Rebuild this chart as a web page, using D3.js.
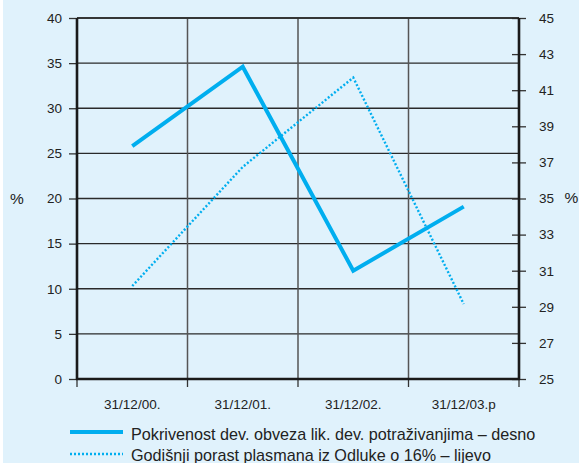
<!DOCTYPE html>
<html><head><meta charset="utf-8">
<script src="https://cdn.jsdelivr.net/npm/d3@7"></script>
<style>
html,body{margin:0;padding:0;background:#fff;}
svg{display:block;font-family:"Liberation Sans",Arial,sans-serif;}
</style></head>
<body>
<script>
const categories = ["31/12/00.", "31/12/01.", "31/12/02.", "31/12/03.p"];
const coverageRight = [37.9, 42.3, 31.0, 34.55];   // solid, right axis
const growthLeft = [10.3, 23.5, 33.4, 8.3];         // dotted, left axis
const leftTicks = [0, 5, 10, 15, 20, 25, 30, 35, 40];
const rightTicks = [25, 27, 29, 31, 33, 35, 37, 39, 41, 43, 45];
const legendLabels = ["Pokrivenost dev. obveza lik. dev. potraživanjima – desno",
                      "Godišnji porast plasmana iz Odluke o 16% – lijevo"];

const W = 579, H = 463;
const L = 77, R = 519, T = 18, B = 379;
const lineColor = "#00aeef";
const tickFont = 13.5;

const svg = d3.select("body").append("svg").attr("width", W).attr("height", H);
svg.append("rect").attr("width", W).attr("height", H).attr("fill", "#e0f2fc");
svg.append("rect").attr("width", 3).attr("height", H).attr("fill", "#ffffff");

const xBand = d3.scaleBand().domain(categories).range([L, R]).padding(0);
const xPoint = c => xBand(c) + xBand.bandwidth() / 2;
const yL = d3.scaleLinear().domain([0, 40]).range([B, T]);
const yR = d3.scaleLinear().domain([25, 45]).range([B, T]);

// horizontal gridlines
svg.append("g").selectAll("line").data(leftTicks.filter(d => d > 0)).join("line")
  .attr("x1", L).attr("x2", R).attr("y1", d => yL(d)).attr("y2", d => yL(d))
  .attr("stroke", "#2a2a2a").attr("stroke-width", 1.3);
// vertical gridlines
svg.append("g").selectAll("line").data(categories.slice(1)).join("line")
  .attr("x1", d => xBand(d)).attr("x2", d => xBand(d)).attr("y1", T).attr("y2", B)
  .attr("stroke", "#555").attr("stroke-width", 1.5);

// left axis
const gl = svg.append("g").attr("transform", `translate(${L},0)`)
  .call(d3.axisLeft(yL).tickValues(leftTicks).tickSize(8).tickPadding(7));
gl.select(".domain").remove();
gl.selectAll(".tick line").attr("stroke", "#333").attr("stroke-width", 1.3);
gl.selectAll(".tick text").attr("font-size", tickFont).attr("fill", "#222")
  .attr("font-family", "Liberation Sans, Arial, sans-serif");

// right axis
const gr = svg.append("g").attr("transform", `translate(${R},0)`)
  .call(d3.axisRight(yR).tickValues(rightTicks).tickSize(7).tickPadding(13));
gr.select(".domain").remove();
gr.selectAll(".tick line").attr("x1", -7).attr("stroke", "#333").attr("stroke-width", 1.3);
gr.selectAll(".tick text").attr("font-size", tickFont).attr("fill", "#222")
  .attr("font-family", "Liberation Sans, Arial, sans-serif");

// bottom axis ticks at band edges
const edges = categories.map(c => xBand(c)).concat([R]);
svg.append("g").selectAll("line").data(edges).join("line")
  .attr("x1", d => d).attr("x2", d => d).attr("y1", B).attr("y2", B + 8)
  .attr("stroke", "#333").attr("stroke-width", 1.3);
svg.append("g").selectAll("text").data(categories).join("text")
  .attr("x", d => xPoint(d)).attr("y", 409).attr("text-anchor", "middle")
  .attr("font-size", tickFont).attr("fill", "#222").text(d => d);

// axis frame lines
svg.append("line").attr("x1", L).attr("x2", R).attr("y1", T).attr("y2", T)
  .attr("stroke", "#2a2a2a").attr("stroke-width", 1.5);
svg.append("line").attr("x1", L).attr("x2", L).attr("y1", T).attr("y2", B + 1)
  .attr("stroke", "#1a1a1a").attr("stroke-width", 2.6);
svg.append("line").attr("x1", R).attr("x2", R).attr("y1", T).attr("y2", B + 1)
  .attr("stroke", "#1a1a1a").attr("stroke-width", 2.6);
svg.append("line").attr("x1", L - 1).attr("x2", R + 1).attr("y1", B).attr("y2", B)
  .attr("stroke", "#1a1a1a").attr("stroke-width", 2.6);

// % labels
svg.append("text").attr("x", 17).attr("y", 204).attr("text-anchor", "middle")
  .attr("font-size", 15.5).attr("fill", "#222").text("%");
svg.append("text").attr("x", 571.5).attr("y", 203).attr("text-anchor", "middle")
  .attr("font-size", 15.5).attr("fill", "#222").text("%");

// lines
const solid = d3.line().x((d, i) => xPoint(categories[i])).y(d => yR(d));
const dotted = d3.line().x((d, i) => xPoint(categories[i])).y(d => yL(d));
svg.append("path").datum(coverageRight).attr("d", solid).attr("fill", "none")
  .attr("stroke", lineColor).attr("stroke-width", 4).attr("stroke-linejoin", "miter");
svg.append("path").datum(growthLeft).attr("d", dotted).attr("fill", "none")
  .attr("stroke", lineColor).attr("stroke-width", 2.4).attr("stroke-dasharray", "2,2");

// legend
const lg = svg.append("g");
lg.append("line").attr("x1", 70).attr("x2", 123).attr("y1", 432).attr("y2", 432)
  .attr("stroke", lineColor).attr("stroke-width", 4);
lg.append("line").attr("x1", 70).attr("x2", 123).attr("y1", 454).attr("y2", 454)
  .attr("stroke", lineColor).attr("stroke-width", 2.4).attr("stroke-dasharray", "2,2");
lg.selectAll("text").data(legendLabels).join("text")
  .attr("x", 131).attr("y", (d, i) => 440 + i * 21)
  .attr("font-size", 16.2).attr("fill", "#222").text(d => d);
</script>
</body></html>
